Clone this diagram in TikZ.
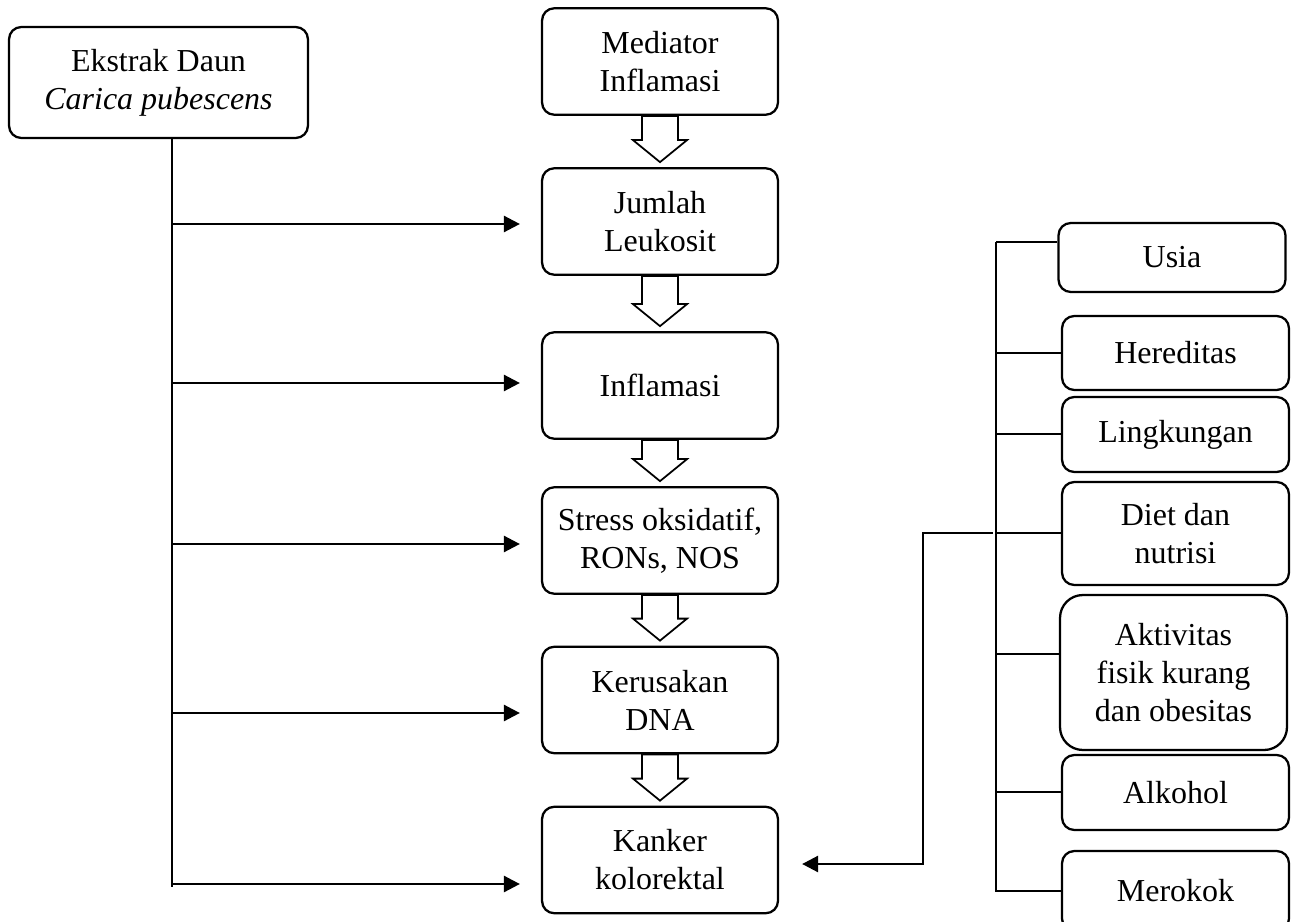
\documentclass[tikz,border=0pt]{standalone}
\usepackage{fontspec}
\setmainfont{Liberation Serif}
\usetikzlibrary{arrows.meta, positioning, calc}

\begin{document}
\begin{tikzpicture}[
  x=0.02cm, y=-0.02cm,
  font=\fontsize{18.2}{21.6}\selectfont,
  box/.style={draw, rounded corners=7pt, line width=1.3pt, align=center, inner sep=2pt},
  midbox/.style={box, minimum width=4.72cm, minimum height=2.13cm},
  sidebox/.style={box, minimum width=4.54cm},
  arrow/.style={-{Triangle[length=0.32cm, width=0.32cm]}, line width=1.5pt},
  branch/.style={line width=0.7pt},
  hollow/.style={draw, line width=1pt, fill=white}
]
\useasboundingbox (0,0) rectangle (1298,922);

% source box
\node[box, minimum width=5.98cm, minimum height=2.22cm] (eks) at (158.5,82.5) {Ekstrak Daun\\\textit{Carica pubescens}};

% main chain
\node[midbox] (med) at (660,61.5) {Mediator\\Inflamasi};
\node[midbox] (jum) at (660,221.5) {Jumlah\\Leukosit};
\node[midbox] (inf) at (660,385.5) {Inflamasi};
\node[midbox] (str) at (660,540.5) {Stress oksidatif,\\RONs, NOS};
\node[midbox] (ker) at (660,700) {Kerusakan\\DNA};
\node[midbox] (kan) at (660,860) {Kanker\\kolorektal};

% risk factors
\node[sidebox, minimum height=1.38cm] (usia) at (1172,257.5) {Usia};
\node[sidebox, minimum height=1.48cm] (her) at (1175.5,353) {Hereditas};
\node[sidebox, minimum height=1.5cm] (lin) at (1175.5,434.5) {Lingkungan};
\node[sidebox, minimum height=2.06cm] (diet) at (1175.5,533.5) {Diet dan\\nutrisi};
\node[sidebox, minimum height=3.1cm, rounded corners=13pt] (akt) at (1173.5,672.5) {Aktivitas\\fisik kurang\\dan obesitas};
\node[sidebox, minimum height=1.5cm] (alk) at (1175.5,792.5) {Alkohol};
\node[sidebox, minimum height=1.6cm] (mer) at (1175.5,891) {Merokok};

% block arrows down the chain
\foreach \a/\b in {med/jum, jum/inf, inf/str, str/ker, ker/kan} {
  \path (\a.south) coordinate (top) ($(\b.north)+(0,-5)$) coordinate (tip);
  \draw[hollow] ($(top)+(-18,0)$) -- ($(tip)+(-18,-22)$) -- ($(tip)+(-27,-22)$) -- (tip)
    -- ($(tip)+(27,-22)$) -- ($(tip)+(18,-22)$) -- ($(top)+(18,0)$) -- cycle;
}

% left trunk
\coordinate (trunk) at (172,887);
\draw[line width=1pt] (eks.south -| trunk) -- (trunk);
\foreach \n/\y in {jum/224, inf/383, str/544, ker/713, kan/884} {
  \path (172,\y) coordinate (tap);
  \draw[arrow, shorten >=0.42cm] (tap) -- (tap -| \n.west);
}

% right trunk
\coordinate (rtop) at (996,242);
\coordinate (rbot) at (996,892);
\draw[branch] (rtop) -- (rbot);
\foreach \n/\y in {usia/242, her/353, lin/434, diet/533, akt/654, alk/792, mer/891} {
  \path (996,\y) coordinate (b);
  \draw[branch] (b) -- (b -| \n.west);
}

% factors into kanker
\coordinate (dj) at (993,533);
\draw[arrow, shorten >=0.46cm] (dj) -- ++(-70,0) |- ([yshift=-0.08cm]kan.east);
\end{tikzpicture}
\end{document}
